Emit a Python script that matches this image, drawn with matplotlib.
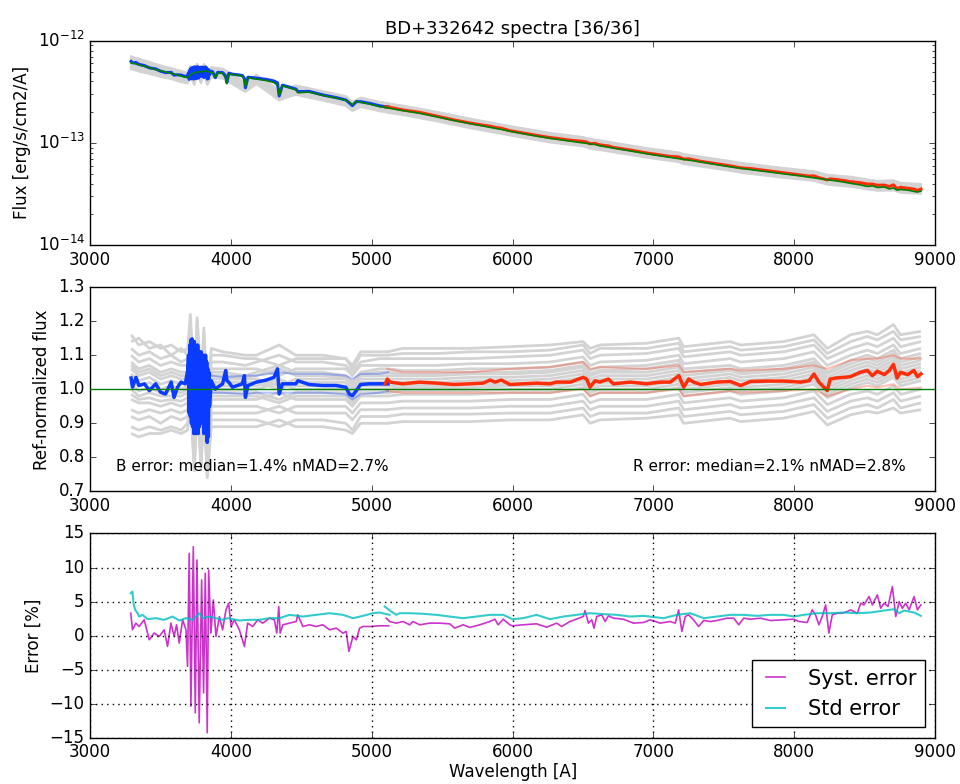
import numpy as np
import matplotlib
matplotlib.use('Agg')
import matplotlib.pyplot as plt

plt.style.use('classic')
plt.rcParams['font.family'] = ['DejaVu Sans']
plt.rcParams['figure.facecolor'] = 'white'
plt.rcParams['savefig.facecolor'] = 'white'

# ---- blue arm (B), reference flux [1e-13 erg/s/cm2/A] and median ratio
wave_b = [3290, 3300, 3325, 3345, 3385, 3420, 3465, 3500, 3535, 3575,
          3595, 3620, 3645, 3675, 3692,
          3698, 3703, 3707, 3711, 3715, 3719, 3723, 3727, 3731, 3735,
          3739, 3743, 3747, 3751, 3755, 3759, 3763, 3767, 3771, 3775,
          3779, 3783, 3787, 3791, 3795, 3799, 3803, 3807, 3811, 3815,
          3819, 3823, 3827, 3831, 3835, 3839, 3843, 3847,
          3860, 3870, 3888, 3905, 3940, 3962, 3970, 3985, 4010,
          4045, 4080, 4095, 4102, 4120, 4180, 4250, 4305, 4330, 4342,
          4365, 4460, 4475, 4555, 4650, 4745, 4815, 4840, 4862, 4890,
          4920, 4985, 5055, 5115]
flux_ref_b = [6.08, 6.05, 5.92, 5.82, 5.62, 5.45, 5.22, 5.08, 4.95, 4.80,
              4.72, 4.62, 4.52, 4.40, 4.35,
              4.42, 4.50, 4.57, 4.63, 4.68, 4.72, 4.75, 4.79, 4.82, 4.84,
              4.86, 4.88, 4.90, 4.91, 4.92, 4.93, 4.93, 4.94, 4.95, 4.96,
              4.97, 4.98, 4.98, 4.99, 5.00, 5.00, 5.01, 5.02, 5.03, 5.04,
              5.05, 5.05, 5.02, 5.00, 4.97, 4.95, 4.92, 4.90,
              4.92, 4.88, 4.35, 4.88, 4.80, 4.30, 3.80, 4.72, 4.68,
              4.60, 4.50, 4.10, 3.55, 4.35, 4.22, 4.08, 3.90, 3.65, 2.92,
              3.62, 3.32, 3.10, 3.15, 2.92, 2.75, 2.62, 2.50, 2.36, 2.55,
              2.50, 2.40, 2.27, 2.21]
ratio_med_b = [1.033, 1.006, 1.035, 1.011, 1.016, 0.996, 1.016, 0.991, 0.986, 1.021,
               0.976, 1.006, 1.021, 1.016, 1.055,
               1.100, 0.930, 1.130, 0.920, 1.145, 0.900, 1.148, 0.890, 1.140, 0.870,
               1.140, 0.880, 1.130, 0.870, 1.120, 0.880, 1.130, 0.870, 1.110, 0.890,
               1.100, 0.910, 1.110, 0.900, 1.100, 0.920, 1.100, 0.870, 1.090, 0.890,
               1.100, 0.880, 1.080, 0.844, 1.060, 0.860, 1.050, 0.950,
               1.025, 1.016, 1.000, 1.006, 1.016, 1.055, 1.026, 1.020, 1.006,
               1.011, 1.016, 1.040, 0.976, 1.011, 1.021, 1.027, 1.035, 1.060, 0.986,
               1.016, 1.016, 1.025, 1.014, 1.011, 1.011, 1.006, 0.986, 0.981, 0.996,
               1.014, 1.016, 1.016, 1.016]

# ---- red arm (R)
wave_r = [5095, 5110, 5130, 5220, 5340, 5460, 5580, 5700, 5790, 5840,
          5875, 5920, 5980, 6075, 6170, 6265, 6310, 6410, 6500, 6525,
          6550, 6585, 6620, 6680, 6715, 6835, 6950, 7050, 7120, 7180,
          7215, 7250, 7285, 7335, 7450, 7545, 7620, 7690, 7810, 7925,
          8045, 8105, 8140, 8175, 8210, 8235, 8255, 8295, 8355, 8400,
          8470, 8520, 8555, 8590, 8640, 8675, 8705, 8730, 8755, 8805,
          8850, 8875, 8900]
flux_ref_r = [2.22, 2.20, 2.18, 2.07, 1.95, 1.80, 1.66, 1.54, 1.465, 1.42,
              1.39, 1.355, 1.30, 1.23, 1.165, 1.11, 1.087, 1.04, 1.00, 0.99,
              0.975, 0.965, 0.936, 0.907, 0.89, 0.835, 0.785, 0.746, 0.721, 0.701,
              0.690, 0.678, 0.668, 0.651, 0.612, 0.583, 0.564, 0.548, 0.522, 0.498,
              0.475, 0.462, 0.455, 0.448, 0.441, 0.436, 0.432, 0.425, 0.413, 0.402,
              0.388, 0.375, 0.380, 0.366, 0.370, 0.355, 0.362, 0.345, 0.350, 0.345,
              0.335, 0.330, 0.338]
ratio_med_r = [1.016, 1.030, 1.021, 1.016, 1.021, 1.018, 1.014, 1.016, 1.018, 1.027,
               1.021, 1.027, 1.014, 1.016, 1.018, 1.016, 1.021, 1.021, 1.035, 1.030,
               1.006, 1.025, 1.021, 1.030, 1.016, 1.021, 1.016, 1.021, 1.021, 1.040,
               1.006, 1.030, 1.021, 1.014, 1.021, 1.023, 1.011, 1.023, 1.024, 1.024,
               1.021, 1.025, 1.045, 1.021, 1.006, 0.996, 1.030, 1.033, 1.035, 1.037,
               1.050, 1.055, 1.040, 1.053, 1.043, 1.055, 1.073, 1.033, 1.050, 1.043,
               1.055, 1.037, 1.045]

# ---- individual spectra / reference (visible levels of the 36 spectra)
wave_gb = [3290, 3345, 3420, 3500, 3575, 3645, 3692, 3711, 3739, 3759, 3787, 3807,
           3831, 3860, 3940, 4102, 4180, 4342, 4460, 4650, 4815, 4862, 4920, 5055, 5115]
gray_b = [
    [1.16, 1.13, 1.14, 1.12, 1.13, 1.11, 1.12, 1.22, 1.00, 1.21, 1.02, 1.18, 0.98, 1.12,
     1.11, 1.10, 1.10, 1.13, 1.10, 1.10, 1.09, 1.07, 1.11, 1.11, 1.11],
    [1.14, 1.15, 1.12, 1.13, 1.10, 1.12, 1.10, 1.19, 0.96, 1.20, 0.98, 1.16, 0.95, 1.10,
     1.10, 1.09, 1.09, 1.07, 1.09, 1.09, 1.09, 1.06, 1.10, 1.10, 1.10],
    [1.12, 1.10, 1.11, 1.09, 1.10, 1.08, 1.09, 1.17, 0.94, 1.16, 0.95, 1.14, 0.92, 1.08,
     1.08, 1.07, 1.08, 1.10, 1.08, 1.08, 1.07, 1.05, 1.08, 1.09, 1.09],
    [1.10, 1.08, 1.09, 1.07, 1.08, 1.07, 1.07, 1.15, 0.92, 1.14, 0.93, 1.12, 0.90, 1.06,
     1.06, 1.06, 1.06, 1.04, 1.06, 1.06, 1.06, 1.04, 1.07, 1.07, 1.07],
    [1.08, 1.06, 1.07, 1.05, 1.06, 1.05, 1.05, 1.13, 0.90, 1.12, 0.91, 1.10, 0.88, 1.05,
     1.05, 1.04, 1.05, 1.07, 1.05, 1.05, 1.04, 1.02, 1.05, 1.06, 1.06],
    [1.07, 1.05, 1.06, 1.04, 1.05, 1.04, 1.04, 1.12, 0.89, 1.11, 0.90, 1.09, 0.87, 1.04,
     1.04, 1.035, 1.04, 1.06, 1.04, 1.04, 1.035, 1.015, 1.045, 1.05, 1.05],
    [1.06, 1.04, 1.05, 1.03, 1.04, 1.03, 1.03, 1.11, 0.88, 1.10, 0.89, 1.08, 0.86, 1.03,
     1.03, 1.03, 1.03, 1.01, 1.03, 1.03, 1.03, 1.01, 1.04, 1.04, 1.04],
    [1.045, 1.025, 1.035, 1.015, 1.025, 1.015, 1.02, 1.10, 0.87, 1.09, 0.88, 1.07, 0.85, 1.02,
     1.02, 1.02, 1.02, 1.00, 1.02, 1.02, 1.02, 1.00, 1.03, 1.03, 1.03],
    [1.03, 1.01, 1.02, 1.00, 1.01, 1.00, 1.01, 1.09, 0.86, 1.08, 0.87, 1.06, 0.84, 1.01,
     1.01, 1.01, 1.01, 1.03, 1.01, 1.01, 1.01, 0.99, 1.02, 1.02, 1.02],
    [1.015, 0.995, 1.005, 0.99, 0.995, 0.99, 1.0, 1.08, 0.85, 1.07, 0.86, 1.05, 0.83, 1.0,
     1.0, 1.0, 1.0, 1.02, 1.0, 1.0, 1.0, 0.98, 1.01, 1.01, 1.01],
    [1.00, 0.98, 0.99, 0.98, 0.98, 0.98, 0.99, 1.07, 0.84, 1.06, 0.85, 1.04, 0.82, 0.99,
     0.99, 0.99, 0.99, 0.97, 0.99, 0.99, 0.99, 0.97, 1.00, 1.00, 1.00],
    [0.985, 0.97, 0.975, 0.965, 0.97, 0.965, 0.975, 1.06, 0.83, 1.05, 0.84, 1.03, 0.81, 0.98,
     0.98, 0.98, 0.98, 0.96, 0.98, 0.98, 0.98, 0.96, 0.99, 0.99, 0.99],
    [0.97, 0.96, 0.96, 0.95, 0.96, 0.95, 0.96, 1.05, 0.82, 1.04, 0.83, 1.02, 0.80, 0.97,
     0.97, 0.97, 0.97, 0.99, 0.97, 0.97, 0.97, 0.95, 0.98, 0.98, 0.98],
    [0.94, 0.93, 0.94, 0.93, 0.94, 0.93, 0.94, 1.03, 0.80, 1.02, 0.81, 1.00, 0.78, 0.95,
     0.95, 0.95, 0.95, 0.93, 0.95, 0.95, 0.95, 0.93, 0.96, 0.96, 0.96],
    [0.92, 0.91, 0.92, 0.90, 0.92, 0.91, 0.92, 1.01, 0.78, 1.00, 0.79, 0.98, 0.76, 0.93,
     0.93, 0.93, 0.93, 0.95, 0.93, 0.93, 0.93, 0.91, 0.94, 0.94, 0.94],
    [0.89, 0.88, 0.89, 0.88, 0.89, 0.88, 0.90, 0.99, 0.77, 0.98, 0.78, 0.96, 0.75, 0.91,
     0.91, 0.91, 0.91, 0.89, 0.91, 0.91, 0.90, 0.88, 0.92, 0.92, 0.92],
    [0.87, 0.86, 0.87, 0.87, 0.88, 0.87, 0.88, 0.97, 0.76, 0.96, 0.77, 0.95, 0.74, 0.89,
     0.89, 0.89, 0.89, 0.91, 0.89, 0.89, 0.88, 0.87, 0.90, 0.90, 0.90],
]
wave_gr = [5110, 5220, 5460, 5700, 5980, 6265, 6500, 6550, 6620, 6950, 7180, 7215,
           7545, 7620, 7925, 8140, 8235, 8400, 8520, 8590, 8705, 8755, 8900]
gray_r = [
    [1.11, 1.12, 1.12, 1.12, 1.125, 1.13, 1.14, 1.12, 1.13, 1.135, 1.15, 1.125,
     1.14, 1.13, 1.14, 1.16, 1.12, 1.16, 1.17, 1.16, 1.19, 1.16, 1.17],
    [1.10, 1.105, 1.105, 1.11, 1.11, 1.115, 1.13, 1.105, 1.12, 1.12, 1.135, 1.11,
     1.125, 1.115, 1.125, 1.145, 1.105, 1.14, 1.155, 1.145, 1.17, 1.145, 1.155],
    [1.09, 1.09, 1.09, 1.09, 1.095, 1.10, 1.115, 1.09, 1.10, 1.105, 1.12, 1.095,
     1.11, 1.10, 1.11, 1.13, 1.09, 1.12, 1.135, 1.125, 1.15, 1.125, 1.14],
    [1.07, 1.07, 1.07, 1.075, 1.075, 1.08, 1.095, 1.07, 1.08, 1.085, 1.10, 1.075,
     1.09, 1.08, 1.09, 1.11, 1.07, 1.10, 1.115, 1.105, 1.13, 1.105, 1.12],
    [1.06, 1.055, 1.055, 1.06, 1.06, 1.065, 1.08, 1.055, 1.065, 1.07, 1.085, 1.06,
     1.07, 1.06, 1.07, 1.09, 1.05, 1.085, 1.10, 1.09, 1.115, 1.09, 1.105],
    [1.05, 1.045, 1.045, 1.05, 1.05, 1.055, 1.07, 1.045, 1.055, 1.06, 1.075, 1.05,
     1.06, 1.05, 1.06, 1.08, 1.045, 1.075, 1.09, 1.08, 1.105, 1.08, 1.095],
    [1.04, 1.04, 1.04, 1.045, 1.045, 1.05, 1.065, 1.04, 1.05, 1.05, 1.065, 1.04,
     1.055, 1.045, 1.055, 1.075, 1.035, 1.065, 1.08, 1.07, 1.095, 1.07, 1.085],
    [1.03, 1.03, 1.03, 1.035, 1.035, 1.04, 1.055, 1.03, 1.04, 1.04, 1.055, 1.03,
     1.045, 1.035, 1.045, 1.065, 1.025, 1.055, 1.07, 1.06, 1.085, 1.06, 1.075],
    [1.02, 1.02, 1.02, 1.025, 1.025, 1.03, 1.045, 1.02, 1.03, 1.03, 1.045, 1.02,
     1.035, 1.025, 1.035, 1.055, 1.015, 1.045, 1.06, 1.05, 1.075, 1.05, 1.065],
    [1.01, 1.012, 1.012, 1.015, 1.015, 1.02, 1.035, 1.01, 1.02, 1.02, 1.035, 1.01,
     1.025, 1.015, 1.025, 1.045, 1.005, 1.035, 1.05, 1.04, 1.065, 1.04, 1.055],
    [1.00, 1.005, 1.005, 1.005, 1.01, 1.01, 1.025, 1.0, 1.01, 1.01, 1.025, 1.0,
     1.015, 1.005, 1.015, 1.035, 0.995, 1.025, 1.04, 1.03, 1.055, 1.03, 1.045],
    [0.99, 0.995, 0.995, 0.995, 1.0, 1.0, 1.015, 0.99, 1.0, 1.0, 1.015, 0.99,
     1.005, 0.995, 1.005, 1.025, 0.985, 1.015, 1.03, 1.02, 1.045, 1.02, 1.035],
    [0.98, 0.985, 0.985, 0.985, 0.99, 0.99, 1.005, 0.98, 0.99, 0.99, 1.005, 0.98,
     0.995, 0.985, 0.995, 1.015, 0.975, 1.005, 1.02, 1.01, 1.035, 1.01, 1.025],
    [0.96, 0.965, 0.965, 0.965, 0.97, 0.97, 0.985, 0.96, 0.97, 0.97, 0.985, 0.96,
     0.975, 0.965, 0.975, 0.995, 0.955, 0.985, 0.995, 0.985, 1.01, 0.985, 1.0],
    [0.94, 0.945, 0.945, 0.945, 0.95, 0.95, 0.965, 0.94, 0.95, 0.95, 0.965, 0.94,
     0.955, 0.945, 0.955, 0.975, 0.935, 0.965, 0.975, 0.965, 0.99, 0.965, 0.98],
    [0.92, 0.927, 0.927, 0.927, 0.93, 0.93, 0.945, 0.92, 0.93, 0.93, 0.945, 0.92,
     0.935, 0.925, 0.935, 0.955, 0.915, 0.945, 0.955, 0.945, 0.97, 0.945, 0.96],
    [0.90, 0.905, 0.905, 0.905, 0.91, 0.91, 0.925, 0.90, 0.91, 0.915, 0.925, 0.90,
     0.915, 0.905, 0.915, 0.935, 0.895, 0.925, 0.935, 0.93, 0.945, 0.93, 0.94],
]

# light (dispersion) curves around the median
wave_lb = [3860, 3940, 4102, 4180, 4342, 4460, 4650, 4815, 4862, 4920, 5055, 5115]
hi_b = [1.04, 1.035, 1.04, 1.04, 1.05, 1.045, 1.045, 1.04, 1.03, 1.045, 1.045, 1.05]
lo_b = [0.99, 0.99, 0.985, 0.99, 0.99, 0.99, 0.99, 0.985, 0.97, 0.985, 0.99, 0.995]
hi_r = [1.06, 1.05, 1.05, 1.05, 1.06, 1.065, 1.08, 1.06, 1.065, 1.06, 1.07, 1.05,
        1.06, 1.055, 1.06, 1.07, 1.06, 1.085, 1.09, 1.09, 1.10, 1.09, 1.09]
lo_r = [0.995, 0.99, 0.99, 0.99, 0.99, 0.99, 1.0, 0.98, 0.99, 0.99, 1.0, 0.98,
        0.995, 0.99, 0.995, 1.0, 0.98, 1.0, 1.01, 1.005, 1.015, 1.0, 1.005]

# ---- errors [%]
wave_sb = [3288, 3300, 3324, 3347, 3383, 3419, 3454, 3490, 3525, 3549, 3573, 3596,
           3613, 3632, 3656, 3680, 3691, 3703, 3715, 3732, 3746, 3758, 3774, 3791,
           3805, 3817, 3831, 3841, 3857, 3874, 3893, 3917, 3940, 3964, 3983, 4000,
           4024, 4059, 4095, 4118, 4154, 4190, 4225, 4273, 4308, 4325, 4339, 4349,
           4368, 4415, 4463, 4474, 4510, 4557, 4605, 4652, 4700, 4747, 4795, 4818,
           4837, 4866, 4890, 4913, 4937, 4984, 5056, 5120]
syst_b = [3.29, 0.85, 1.83, 1.34, 2.32, -0.61, 0.37, -0.12, 0.85, -1.59, 1.83, -0.12,
          1.59, -1.10, 2.32, 0.85, -4.51, 12.07, -10.37, 13.05, -11.34, 11.10, -12.80, 8.17,
          -8.41, 9.15, -14.27, 9.63, 0.37, 5.24, -0.12, 2.80, 0.85, 3.78, 4.76, 1.34,
          2.32, 0.85, -1.59, 1.83, 1.34, 2.32, 1.83, 2.56, 2.32, 0.37, 4.27, 0.37,
          1.59, 1.83, 2.07, 3.05, 1.34, 1.59, 1.34, 1.59, 0.85, 1.10, 0.37, 0.61,
          -2.32, -0.12, -0.61, 1.10, 1.34, 1.34, 1.44, 1.44]
wave_cb = [3288, 3300, 3307, 3319, 3336, 3347, 3371, 3407, 3466, 3525, 3585, 3632,
           3680, 3727, 3774, 3798, 3845, 3893, 3940, 3976, 4012, 4059, 4130, 4201,
           4273, 4344, 4415, 4510, 4605, 4700, 4795, 4866, 4937, 5008, 5055, 5126]
std_b = [6.22, 6.46, 4.76, 3.78, 3.29, 2.80, 3.05, 2.41, 2.56, 2.32, 2.80, 2.22,
         2.56, 2.32, 3.29, 2.56, 2.80, 2.56, 2.32, 2.56, 2.41, 2.22, 2.32, 2.32,
         2.56, 2.56, 3.05, 2.80, 3.05, 3.29, 3.05, 2.56, 2.90, 3.29, 3.39, 3.05]
wave_sr = [5103, 5126, 5174, 5221, 5269, 5292, 5340, 5411, 5482, 5553, 5589, 5648,
           5696, 5767, 5838, 5874, 5897, 5933, 5980, 5999, 6075, 6170, 6241, 6313,
           6348, 6407, 6502, 6514, 6538, 6562, 6578, 6597, 6633, 6657, 6680, 6716,
           6787, 6858, 6929, 6977, 7048, 7119, 7155, 7179, 7202, 7226, 7250, 7285,
           7321, 7357, 7404, 7452, 7523, 7570, 7606, 7641, 7689, 7760, 7831, 7926,
           7997, 8033, 8092, 8128, 8151, 8175, 8199, 8223, 8246, 8270, 8306, 8341,
           8377, 8400, 8448, 8472, 8495, 8531, 8555, 8590, 8614, 8638, 8666, 8697,
           8721, 8745, 8768, 8792, 8816, 8851, 8875, 8899]
syst_r = [2.56, 2.07, 1.83, 2.07, 1.59, 2.07, 1.59, 1.83, 1.83, 1.73, 1.10, 1.59,
          1.20, 1.59, 2.07, 2.41, 1.59, 2.41, 1.59, 1.44, 1.59, 1.73, 1.24, 1.83,
          1.34, 2.07, 2.80, 3.68, 1.83, 2.32, 1.10, 2.80, 3.05, 2.07, 2.90, 2.56,
          2.41, 1.83, 1.93, 2.32, 1.83, 2.07, 1.83, 3.78, 0.61, 2.80, 3.05, 2.32,
          1.34, 2.22, 2.07, 2.22, 2.56, 2.56, 1.59, 2.56, 2.41, 2.56, 2.22, 2.32,
          2.41, 2.07, 1.93, 3.78, 3.05, 1.59, 2.80, 4.51, 0.37, 3.05, 3.29, 3.29,
          3.54, 3.78, 3.29, 4.76, 4.51, 5.73, 4.51, 5.98, 4.02, 4.76, 4.27, 7.20,
          2.80, 5.00, 4.02, 4.76, 3.78, 5.73, 3.78, 4.51]
wave_cr = [5091, 5138, 5174, 5198, 5269, 5364, 5458, 5553, 5648, 5743, 5838, 5933,
           5999, 6075, 6170, 6265, 6360, 6455, 6550, 6645, 6740, 6835, 6930, 7072,
           7167, 7262, 7357, 7451, 7546, 7641, 7736, 7831, 7926, 7997, 8068, 8163,
           8258, 8353, 8448, 8543, 8638, 8709, 8745, 8780, 8851, 8899]
std_r = [4.27, 3.54, 3.05, 3.29, 3.29, 3.20, 3.05, 2.80, 2.56, 2.80, 3.05, 3.05,
         2.41, 2.56, 3.05, 2.41, 2.80, 3.05, 3.29, 3.15, 3.05, 2.80, 2.90, 2.56,
         3.05, 3.29, 2.56, 2.80, 3.05, 3.05, 2.90, 3.05, 3.05, 2.80, 3.05, 3.29,
         3.29, 3.39, 3.29, 3.39, 3.68, 3.88, 3.29, 3.68, 3.39, 2.90]

title = 'BD+332642 spectra [36/36]'
txt_b = 'B error: median=1.4% nMAD=2.7%'
txt_r = 'R error: median=2.1% nMAD=2.8%'

col_b = '#0a3cff'
col_r = '#ff2e0a'
col_gray = '#d3d3d3'

wb = np.array(wave_b)
wr = np.array(wave_r)
fb = np.array(flux_ref_b) * 1e-13
fr = np.array(flux_ref_r) * 1e-13
ib = np.searchsorted(wb, wave_gb)
ir = np.searchsorted(wr, wave_gr)

fig = plt.figure(figsize=(9.6, 7.84), dpi=100)
fig.subplots_adjust(left=0.094, right=0.974, top=0.948, bottom=0.059, hspace=0.206)
ax1 = fig.add_subplot(311)
ax2 = fig.add_subplot(312)
ax3 = fig.add_subplot(313)

# top: fluxes
for row in gray_b:
    ax1.plot(wave_gb, fb[ib] * np.array(row), color=col_gray, lw=1.5)
for row in gray_r:
    ax1.plot(wave_gr, fr[ir] * np.array(row), color=col_gray, lw=1.5)
ax1.plot(wb, fb * np.array(ratio_med_b), color=col_b, lw=2.2)
ax1.plot(wr, fr * np.array(ratio_med_r), color=col_r, lw=2.2)
ax1.plot(wb, fb, color='g', lw=1.2)
ax1.plot(wr, fr, color='g', lw=1.2)
ax1.set_yscale('log')
ax1.set_ylim(1e-14, 1e-12)
ax1.set_xlim(3000, 9000)
ax1.set_ylabel('Flux [erg/s/cm2/A]')
ax1.set_title(title, fontsize=13)

# middle: normalized to the reference
for row in gray_b:
    ax2.plot(wave_gb, row, color=col_gray, lw=2, solid_capstyle='butt')
for row in gray_r:
    ax2.plot(wave_gr, row, color=col_gray, lw=2, solid_capstyle='butt')
ax2.plot(wave_lb, hi_b, color=col_b, lw=1.5, alpha=0.3)
ax2.plot(wave_lb, lo_b, color=col_b, lw=1.5, alpha=0.3)
ax2.plot(wave_gr, hi_r, color=col_r, lw=1.5, alpha=0.3)
ax2.plot(wave_gr, lo_r, color=col_r, lw=1.5, alpha=0.3)
ax2.plot(wave_b, ratio_med_b, color=col_b, lw=2.5)
ax2.plot(wave_r, ratio_med_r, color=col_r, lw=2.5)
ax2.axhline(1.0, color='g', lw=1, zorder=5)
ax2.set_xlim(3000, 9000)
ax2.set_ylim(0.7, 1.3)
ax2.set_ylabel('Ref-normalized flux')
ax2.text(0.03, 0.1, txt_b, transform=ax2.transAxes, fontsize=11, va='baseline')
ax2.text(0.965, 0.1, txt_r, transform=ax2.transAxes, fontsize=11, va='baseline', ha='right')

# bottom: errors
ax3.plot(wave_sb, syst_b, color='m', lw=1.2, alpha=0.8, label='Syst. error')
ax3.plot(wave_cb, std_b, color='c', lw=1.5, alpha=0.8, label='Std error')
ax3.plot(wave_sr, syst_r, color='m', lw=1.2, alpha=0.8)
ax3.plot(wave_cr, std_r, color='c', lw=1.5, alpha=0.8)
ax3.set_xlim(3000, 9000)
ax3.set_ylim(-15, 15)
ax3.grid(True, color='k', linestyle=':', lw=1)
ax3.set_ylabel('Error [%]')
ax3.set_xlabel('Wavelength [A]', labelpad=1)
ax3.legend(loc='lower right', fontsize=15, handlelength=1.5)

plt.savefig('out.png', dpi=100)
